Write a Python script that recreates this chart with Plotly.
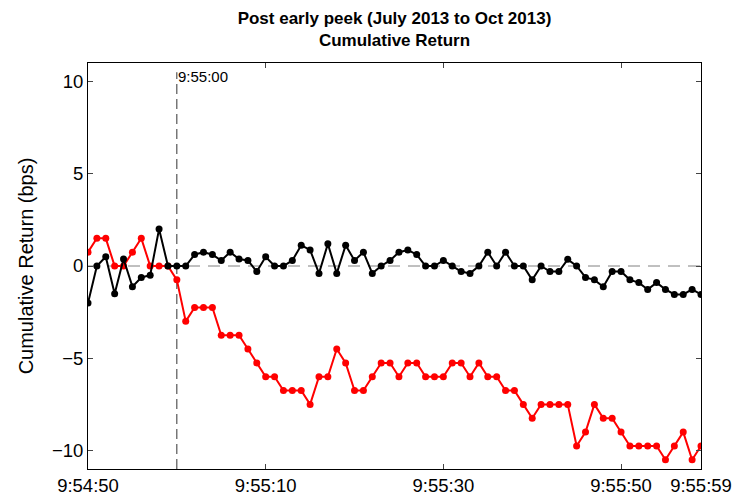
import plotly.graph_objects as go

tick_labels = ["9:54:50", "9:55:10", "9:55:30", "9:55:50", "9:55:59"]
tick_secs = [0, 20, 40, 60, 69]
seconds = list(range(70))

red_vals = [0.75, 1.5, 1.5, 0, 0, 0.75, 1.5, 0, 0, 0,
            -0.75, -3, -2.25, -2.25, -2.25, -3.75, -3.75, -3.75, -4.5, -5.25,
            -6, -6, -6.75, -6.75, -6.75, -7.5, -6, -6, -4.5, -5.25,
            -6.75, -6.75, -6, -5.25, -5.25, -6, -5.25, -5.25, -6, -6,
            -6, -5.25, -5.25, -6, -5.25, -6, -6, -6.75, -6.75, -7.5,
            -8.25, -7.5, -7.5, -7.5, -7.5, -9.75, -9, -7.5, -8.25, -8.25,
            -9, -9.75, -9.75, -9.75, -9.75, -10.5, -9.75, -9, -10.5, -9.75]

black_vals = [-2.0, 0, 0.5, -1.5, 0.38, -1.12, -0.62, -0.5, 2.0, 0,
              0, 0, 0.62, 0.75, 0.62, 0.3, 0.75, 0.38, 0.3, -0.3,
              0.5, 0, 0, 0.3, 1.12, 0.87, -0.4, 1.2, -0.4, 1.12,
              0.3, 0.75, -0.4, 0, 0.3, 0.75, 0.87, 0.62, 0, 0,
              0.3, 0, -0.3, -0.4, 0, 0.75, 0, 0.75, 0, 0,
              -0.75, 0, -0.3, -0.3, 0.36, 0, -0.62, -0.75, -1.12, -0.3,
              -0.3, -0.75, -0.9, -1.27, -0.9, -1.27, -1.54, -1.54, -1.27, -1.54]

event_sec = 10
event_label = "9:55:00"
y_range = [-11, 11]

fig = go.Figure()
fig.add_trace(go.Scatter(x=seconds, y=red_vals, mode="lines+markers",
                         line=dict(color="#ff0000", width=2),
                         marker=dict(color="#ff0000", size=7), showlegend=False))
fig.add_trace(go.Scatter(x=seconds, y=black_vals, mode="lines+markers",
                         line=dict(color="#000000", width=2),
                         marker=dict(color="#000000", size=7), showlegend=False))

fig.add_shape(type="line", xref="paper", yref="y", x0=0, x1=1, y0=0, y1=0,
              line=dict(color="#808080", width=1, dash="12px,8px"), layer="below")
fig.add_shape(type="line", xref="x", yref="y", x0=event_sec, x1=event_sec,
              y0=y_range[0], y1=10.5,
              line=dict(color="#333333", width=1, dash="10px,5px"), layer="below")
fig.add_annotation(x=event_sec, y=10.25, xref="x", yref="y", text=event_label,
                   showarrow=False, xanchor="left", yanchor="middle", xshift=-1,
                   font=dict(size=15, color="#000000"))

fig.update_layout(
    width=740, height=494,
    margin=dict(l=80, r=47, t=55, b=33, autoexpand=False),
    paper_bgcolor="white", plot_bgcolor="white",
    font=dict(family="Liberation Sans, Arial, sans-serif", size=18, color="black"),
    title=dict(text="<b>Post early peek (July 2013 to Oct 2013)<br>Cumulative Return</b>",
               x=0.5, xanchor="center", xref="paper", y=1 - 16 / 494, yref="container",
               yanchor="top", font=dict(size=17)),
)
fig.update_xaxes(range=[0, 69], tickvals=tick_secs, ticktext=tick_labels,
                 ticks="inside", ticklen=5, showgrid=False, zeroline=False,
                 showline=True, linecolor="black", linewidth=1, mirror="ticks",
                 tickfont=dict(size=18.5), automargin=False)
fig.update_yaxes(range=y_range, tickvals=[-10, -5, 0, 5, 10],
                 ticktext=["\u221210", "\u22125", "0", "5", "10"],
                 ticks="inside", ticklen=5, showgrid=False, zeroline=False,
                 showline=True, linecolor="black", linewidth=1, mirror="ticks",
                 title=dict(text="Cumulative Return (bps)", font=dict(size=20), standoff=12),
                 tickfont=dict(size=18.5), automargin=False)

fig.write_html("out.html")
